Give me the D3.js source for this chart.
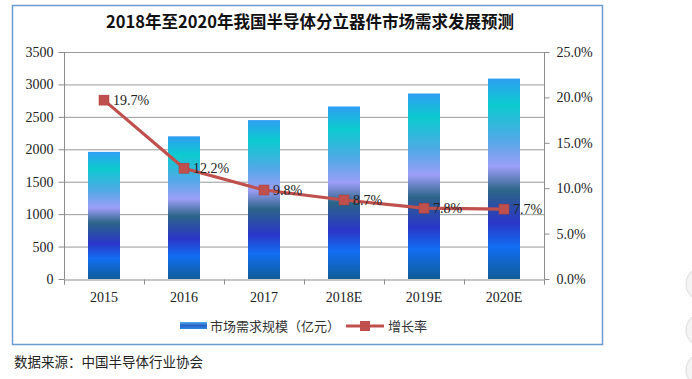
<!DOCTYPE html>
<html><head><meta charset="utf-8">
<script src="https://cdn.jsdelivr.net/npm/d3@7"></script>
<style>body{margin:0;background:#fff;}svg{display:block;}</style>
</head><body>
<svg id="c" width="692" height="379"></svg>
<script>
const categories = ["2015","2016","2017","2018E","2019E","2020E"];
const marketSize = [1960, 2200, 2450, 2660, 2860, 3090];
const growthRate = [19.7, 12.2, 9.8, 8.7, 7.8, 7.7];
const leftTicks = [0,500,1000,1500,2000,2500,3000,3500];
const rightTicks = [0,5,10,15,20,25];
const title = "2018年至2020年我国半导体分立器件市场需求发展预测";
const legendLabels = ["市场需求规模（亿元）","增长率"];
const source = "数据来源：中国半导体行业协会";

const svg = d3.select("#c");
const serif = "'Liberation Serif','DejaVu Serif',serif";
const cjk = "'Noto Sans CJK SC','Noto Sans',sans-serif";
const M = {l:64, r:544, t:52, b:279};

// frame
svg.append("rect").attr("x",12.5).attr("y",5.5).attr("width",590).attr("height",339)
  .attr("fill","#fff").attr("stroke","#6b9bd2").attr("stroke-width",1.5);

const defs = svg.append("defs");
const g = defs.append("linearGradient").attr("id","barG").attr("x1",0).attr("y1",0).attr("x2",0).attr("y2",1);
[[0,"#2e9ef2"],[0.13,"#0ccbcf"],[0.3,"#4fa9e6"],[0.44,"#9c9ef7"],[0.56,"#2c6488"],[0.72,"#2a36c8"],[0.84,"#126ef2"],[1,"#0f5d98"]]
 .forEach(([o,c])=>g.append("stop").attr("offset",o).attr("stop-color",c));
const gl = defs.append("linearGradient").attr("id","legG").attr("x1",0).attr("y1",0).attr("x2",0).attr("y2",1);
[[0,"#4fb0ea"],[0.5,"#2a60c8"],[1,"#2a8ae0"]].forEach(([o,c])=>gl.append("stop").attr("offset",o).attr("stop-color",c));

const x = d3.scaleBand().domain(categories).range([M.l,M.r]).paddingInner(0.6).paddingOuter(0.3);
const y = d3.scaleLinear().domain([0,3500]).range([M.b,M.t]);
const y2 = d3.scaleLinear().domain([0,25]).range([M.b,M.t]);

// gridlines
svg.append("g").selectAll("line").data(leftTicks.slice(1)).join("line")
  .attr("x1",M.l).attr("x2",M.r).attr("y1",d=>y(d)+0.5).attr("y2",d=>y(d)+0.5)
  .attr("stroke","#9a9a9a").attr("stroke-width",1);

// bars
svg.append("g").selectAll("rect").data(marketSize).join("rect")
  .attr("x",(d,i)=>x(categories[i])).attr("width",x.bandwidth())
  .attr("y",d=>y(d)).attr("height",d=>y(0)-y(d)).attr("fill","url(#barG)");

// left axis
const la = svg.append("g").attr("transform",`translate(${M.l+0.5},0)`)
  .call(d3.axisLeft(y).tickValues(leftTicks).tickSize(6).tickPadding(5).tickFormat(d3.format("d")));
// right axis
const ra = svg.append("g").attr("transform",`translate(${M.r+0.5},0)`)
  .call(d3.axisRight(y2).tickValues(rightTicks).tickSize(5).tickPadding(7).tickFormat(d=>d.toFixed(1)+"%"));
// bottom axis
const xb = d3.scaleLinear().domain([0,6]).range([M.l,M.r]);
const ba = svg.append("g").attr("transform",`translate(0,${M.b+0.5})`)
  .call(d3.axisBottom(xb).ticks(6).tickSize(5).tickFormat(""));
ba.append("g").selectAll("text").data(categories).join("text")
  .attr("x",d=>x(d)+x.bandwidth()/2).attr("y",22).attr("text-anchor","middle").text(d=>d);
[la,ra,ba].forEach(a=>{
  a.selectAll("path,line").attr("stroke","#8c8c8c");
  a.selectAll("text").attr("fill","#222").style("font-family",serif).style("font-size","14px");
});
la.select(".domain").attr("d",`M0,${M.t}V${M.b}`);
ra.select(".domain").attr("d",`M0,${M.t}V${M.b}`);

// line
const cx = d=>x(d)+x.bandwidth()/2;
const line = d3.line().x((d,i)=>cx(categories[i])).y(d=>y2(d));
svg.append("path").datum(growthRate).attr("d",line).attr("fill","none")
  .attr("stroke","#c0504d").attr("stroke-width",3.2);
svg.append("g").selectAll("rect").data(growthRate).join("rect")
  .attr("x",(d,i)=>cx(categories[i])-5).attr("y",d=>y2(d)-5).attr("width",10).attr("height",10)
  .attr("fill","#c0504d").attr("stroke","#a83c3a").attr("stroke-width",0.5);
svg.append("g").selectAll("text").data(growthRate).join("text")
  .attr("x",(d,i)=>cx(categories[i])+9).attr("y",d=>y2(d)+5)
  .style("font-family",serif).style("font-size","14px").attr("fill","#222")
  .text(d=>d.toFixed(1)+"%");

// title
svg.append("text").attr("x",310).attr("y",28).attr("text-anchor","middle")
  .style("font-family",cjk).style("font-weight","bold").style("font-size","16.5px").attr("fill","#111")
  .text(title);

// legend
svg.append("rect").attr("x",180).attr("y",322).attr("width",27).attr("height",7).attr("fill","url(#legG)");
svg.append("text").attr("x",210).attr("y",331).style("font-family",cjk).style("font-size","13px").attr("fill","#333").text(legendLabels[0]);
svg.append("line").attr("x1",346).attr("x2",384).attr("y1",326).attr("y2",326).attr("stroke","#c0504d").attr("stroke-width",3);
svg.append("rect").attr("x",360).attr("y",321).attr("width",10).attr("height",10).attr("fill","#c0504d");
svg.append("text").attr("x",388).attr("y",331).style("font-family",cjk).style("font-size","13px").attr("fill","#333").text(legendLabels[1]);

// source
svg.append("text").attr("x",14).attr("y",367).style("font-family",cjk).style("font-size","13.5px").attr("fill","#222").text(source);

// side UI buttons (partially visible)
[284,330,370].forEach(cy=>{
  svg.append("circle").attr("cx",703).attr("cy",cy).attr("r",17).attr("fill","#f4f4f4").attr("stroke","#dcdcdc");
});
</script>
</body></html>
